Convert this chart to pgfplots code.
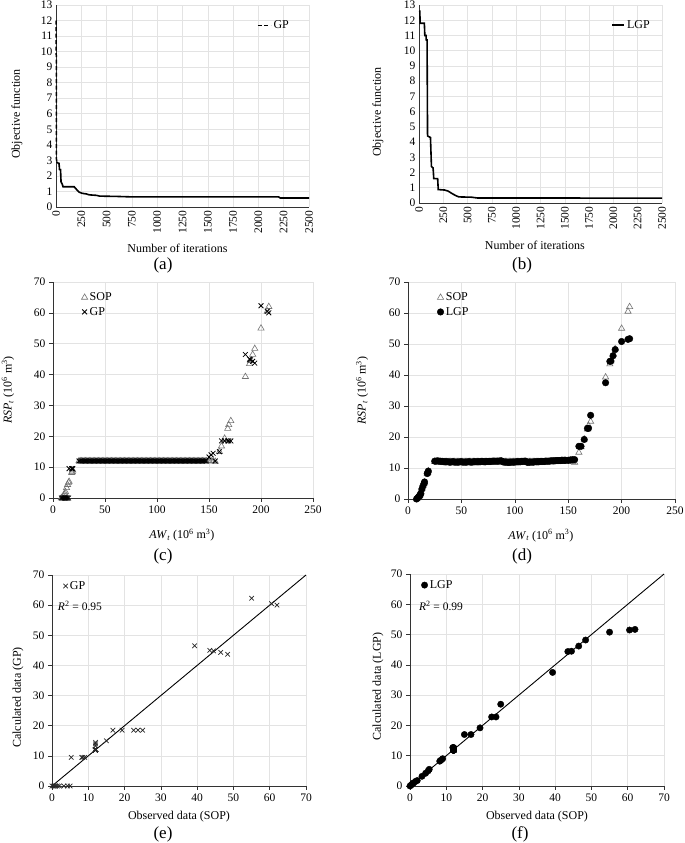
\documentclass[border=0pt]{standalone}
\usepackage{fontspec}
\setmainfont{Liberation Serif}
\usepackage{pgfplots}
\usepackage{pgfplotstable}
\pgfplotsset{compat=1.18}

% reservoir data: available water, SOP release, GP and LGP estimates
\pgfplotstableread{
aw sop gp lgp
8.0 0.0 0 0.0
9.0 0.3 0 0.3
10.0 0.7 0 0.8
11.0 1.0 0 1.0
11.5 1.5 0 1.5
12.0 2.0 0 1.8
13.0 3.3 0 3.2
14.0 4.3 0 4.2
15.0 5.0 0 5.0
15.5 5.3 9.5 5.5
18.0 8.2 9.5 8.2
18.5 8.5 9.5 8.5
19.0 9.0 9.5 9.0
25.0 12 12 12.2
26.25 12 12 12.2
27.5 12 12 12.3
28.75 12 12 12.2
30.0 12 12 12.2
31.25 12 12 12.1
32.5 12 12 12.1
33.75 12 12 12.0
35.0 12 12 12.0
36.25 12 12 12.0
37.5 12 12 12.0
38.75 12 12 11.9
40.0 12 12 11.9
41.25 12 12 12.0
42.5 12 12 12.0
43.75 12 12 11.9
45.0 12 12 11.9
46.25 12 12 11.9
47.5 12 12 11.9
48.75 12 12 12.0
50.0 12 12 12.0
51.25 12 12 11.9
52.5 12 12 11.9
53.75 12 12 11.9
55.0 12 12 11.9
56.25 12 12 12.0
57.5 12 12 12.0
58.75 12 12 11.9
60.0 12 12 11.9
61.25 12 12 12.0
62.5 12 12 12.0
63.75 12 12 12.0
65.0 12 12 12.0
66.25 12 12 12.0
67.5 12 12 12.0
68.75 12 12 12.1
70.0 12 12 12.1
71.25 12 12 12.0
72.5 12 12 12.0
73.75 12 12 12.1
75.0 12 12 12.1
76.25 12 12 12.1
77.5 12 12 12.1
78.75 12 12 12.2
80.0 12 12 12.2
81.25 12 12 12.2
82.5 12 12 12.2
83.75 12 12 12.2
85.0 12 12 12.2
86.25 12 12 12.3
87.5 12 12 12.3
88.75 12 12 12.0
90.0 12 12 11.9
91.25 12 12 11.9
92.5 12 12 11.9
93.75 12 12 11.8
95.0 12 12 11.8
96.25 12 12 11.9
97.5 12 12 11.9
98.75 12 12 11.9
100.0 12 12 11.9
101.25 12 12 12.0
102.5 12 12 12.0
103.75 12 12 12.0
105.0 12 12 12.0
106.25 12 12 12.1
107.5 12 12 12.1
108.75 12 12 12.2
110.0 12 12 12.2
111.25 12 12 11.9
112.5 12 12 11.8
113.75 12 12 11.9
115.0 12 12 11.9
116.25 12 12 11.9
117.5 12 12 11.9
118.75 12 12 12.0
120.0 12 12 12.0
121.25 12 12 12.0
122.5 12 12 12.0
123.75 12 12 12.1
125.0 12 12 12.1
126.25 12 12 12.1
127.5 12 12 12.1
128.75 12 12 12.2
130.0 12 12 12.2
131.25 12 12 12.2
132.5 12 12 12.2
133.75 12 12 12.3
135.0 12 12 12.3
136.25 12 12 12.3
137.5 12 12 12.3
138.75 12 12 12.4
140.0 12 12 12.4
141.25 12 12 12.4
142.5 12 12 12.4
143.75 12 12 12.5
145.0 12 12 12.5
146.25 12 12 12.5
147.5 12 12 12.5
150.0 12 13.3 12.5
152.0 12 14.0 12.6
154.0 12 14.5 12.7
156.0 11.8 12.0 12.7
160.0 15.0 15.0 17.0
162.0 16.8 18.5 17.0
165.0 19.3 18.5 19.2
168.0 22.5 18.5 22.8
169.0 23.7 18.5 22.8
171.0 25.0 18.5 27.0
185.0 39.3 46.5 37.5
189.0 43.5 45.0 44.4
190.0 44.5 44.8 44.5
192.0 46.5 44.3 46.2
194.0 48.4 43.7 48.2
200.0 55.0 62.3 50.8
206.0 60.5 60.5 51.5
207.5 62.0 60.0 51.7
}\resdata

\newcommand\tickfont{\fontsize{11.5}{13}\selectfont}
\newcommand\labfont{\fontsize{12}{14}\selectfont}
\newcommand\letfont{\fontsize{17}{19}\selectfont}

\pgfplotsset{
  panel/.style={
    scale only axis, anchor=south west, clip=false,
    axis lines=left, axis line style={-, black!80, line width=0.8pt},
    grid=major, major grid style={gray!22, line width=0.6pt},
    tick label style={font=\tickfont},
    label style={font=\labfont},
    /pgf/number format/assume math mode=true,
    /pgf/number format/1000 sep={},
    scaled ticks=false,
    legend style={draw=none, fill=none, font=\labfont, inner sep=1pt,
      row sep=1pt},
    legend cell align=left,
  },
  outticks/.style={tick align=outside, major tick length=4pt,
    tick style={black!80, line width=0.6pt}},
}

\begin{document}
\begin{tikzpicture}
\path[use as bounding box] (0,0) rectangle (685pt,843pt);

% (a)
\begin{axis}[panel, at={(56pt,636pt)}, width=253pt, height=202pt,
  xmin=0, xmax=2500, ymin=0, ymax=13,
  xtick={0,250,...,2500}, ytick={0,1,...,13}, major tick length=0pt,
  xticklabel style={rotate=90, anchor=east},
  xlabel={Number of iterations}, ylabel={Objective function},
  xlabel style={at={(axis description cs:0.48,-0.203)}, anchor=center},
  ylabel style={at={(axis description cs:-0.154,0.46)}, anchor=center},
  legend style={at={(axis description cs:0.933,0.90)}, anchor=east},
  legend image code/.code={\draw[#1] (0pt,0pt) -- (13pt,0pt);}]
\addplot[black, dash pattern=on 4pt off 2.5pt, line width=1.5pt, forget plot]
  coordinates {(0,12) (2,11.8) (4,3.2) (6,2.9)};
\addplot[black, line width=1.6pt, forget plot] coordinates {
  (6,2.9) (25,2.8) (30,2.8) (35,2.4) (45,2.4) (50,1.6) (60,1.5) (70,1.3)
  (180,1.3) (200,1.15) (215,1.05) (230,0.95) (260,0.88) (300,0.84)
  (330,0.78) (400,0.75) (430,0.7) (600,0.68) (750,0.65) (2200,0.65)
  (2215,0.58) (2500,0.58)};
\addlegendimage{black, dash pattern=on 4pt off 2.5pt, line width=1.3pt}
\addlegendentry{GP}
\end{axis}

% (b)
\begin{axis}[panel, at={(419pt,640pt)}, width=243pt, height=198pt,
  xmin=0, xmax=2500, ymin=0, ymax=13,
  xtick={0,250,...,2500}, ytick={0,1,...,13}, major tick length=0pt,
  xticklabel style={rotate=90, anchor=east},
  xlabel={Number of iterations}, ylabel={Objective function},
  xlabel style={at={(axis description cs:0.477,-0.212)}, anchor=center},
  ylabel style={at={(axis description cs:-0.169,0.46)}, anchor=center},
  legend style={at={(axis description cs:0.963,0.90)}, anchor=east},
  legend image code/.code={\draw[#1] (0pt,0pt) -- (12pt,0pt);}]
\addplot[black, line width=1.6pt] coordinates {
  (0,12.6) (8,12.6) (12,11.8) (55,11.8) (60,11.0) (72,11.0) (75,10.7)
  (83,10.7) (88,4.4) (118,4.3) (128,2.4) (145,2.3) (152,1.6) (192,1.6)
  (198,0.88) (265,0.85) (300,0.78) (340,0.62) (380,0.48) (410,0.4)
  (540,0.38) (600,0.33) (2500,0.32)};
\addlegendentry{LGP}
\end{axis}

% (c)
\begin{axis}[panel, outticks, at={(53pt,345pt)}, width=260pt, height=216pt,
  xmin=0, xmax=250, ymin=0, ymax=70,
  xtick={0,50,...,250}, ytick={0,10,...,70},
  xlabel={\textit{AW}\textsubscript{\textit{t}} (10\textsuperscript{6} m\textsuperscript{3})},
  ylabel={\textit{RSP}\textsubscript{\textit{t}} (10\textsuperscript{6} m\textsuperscript{3})},
  xlabel style={at={(axis description cs:0.496,-0.172)}, anchor=center},
  ylabel style={at={(axis description cs:-0.173,0.5)}, anchor=center},
  legend style={at={(axis description cs:0.105,0.965)}, anchor=north west}]
\addplot[only marks, mark=triangle, mark size=3.6pt, black!55,
  mark options={line width=0.6pt}] table[x=aw, y=sop] {\resdata};
\addplot[only marks, mark=x, mark size=3.4pt, black,
  mark options={line width=0.8pt}] table[x=aw, y=gp] {\resdata};
\legend{SOP, GP}
\end{axis}

% (d)
\begin{axis}[panel, outticks, at={(408pt,344pt)}, width=267pt, height=217pt,
  xmin=0, xmax=250, ymin=0, ymax=70,
  xtick={0,50,...,250}, ytick={0,10,...,70},
  xlabel={\textit{AW}\textsubscript{\textit{t}} (10\textsuperscript{6} m\textsuperscript{3})},
  ylabel={\textit{RSP}\textsubscript{\textit{t}} (10\textsuperscript{6} m\textsuperscript{3})},
  xlabel style={at={(axis description cs:0.498,-0.168)}, anchor=center},
  ylabel style={at={(axis description cs:-0.172,0.5)}, anchor=center},
  legend style={at={(axis description cs:0.105,0.965)}, anchor=north west}]
\addplot[only marks, mark=triangle, mark size=3.6pt, black!55,
  mark options={line width=0.6pt}] table[x=aw, y=sop] {\resdata};
\addplot[only marks, mark=*, mark size=3.3pt, black] table[x=aw, y=lgp] {\resdata};
\legend{SOP, LGP}
\end{axis}

% (e)
\begin{axis}[panel, outticks, at={(52pt,57pt)}, width=254pt, height=211pt,
  xmin=0, xmax=70, ymin=0, ymax=70,
  xtick={0,10,...,70}, ytick={0,10,...,70},
  xlabel={Observed data (SOP)}, ylabel={Calculated data (GP)},
  xlabel style={at={(axis description cs:0.5,-0.147)}, anchor=center},
  ylabel style={at={(axis description cs:-0.134,0.42)}, anchor=center},
  legend style={at={(axis description cs:0.04,0.985)}, anchor=north west}]
\addplot[only marks, mark=x, mark size=3.2pt, black!85,
  mark options={line width=0.7pt}] table[x=sop, y=gp] {\resdata};
\addlegendentry{GP}
\addplot[black, line width=0.9pt, forget plot] coordinates {(0,0) (70,70)};
\node[font=\tickfont] at (axis description cs:0.11,0.853)
  {\textit{R}\textsuperscript{2} = 0.95};
\end{axis}

% (f)
\begin{axis}[panel, outticks, at={(410pt,57pt)}, width=254pt, height=212pt,
  xmin=0, xmax=70, ymin=0, ymax=70,
  xtick={0,10,...,70}, ytick={0,10,...,70},
  xlabel={Observed data (SOP)}, ylabel={Calculated data (LGP)},
  xlabel style={at={(axis description cs:0.5,-0.146)}, anchor=center},
  ylabel style={at={(axis description cs:-0.126,0.47)}, anchor=center},
  legend style={at={(axis description cs:0.04,0.985)}, anchor=north west}]
\addplot[only marks, mark=*, mark size=3.2pt, black] table[x=sop, y=lgp] {\resdata};
\addlegendentry{LGP}
\addplot[black, line width=0.9pt, forget plot] coordinates {(0,0) (70,70)};
\node[font=\tickfont] at (axis description cs:0.122,0.85)
  {\textit{R}\textsuperscript{2} = 0.99};
\end{axis}

% panel letters
\node[font=\letfont] at (163pt,578pt) {(a)};
\node[font=\letfont] at (522pt,578pt) {(b)};
\node[font=\letfont] at (163pt,287pt) {(c)};
\node[font=\letfont] at (522pt,287pt) {(d)};
\node[font=\letfont] at (163pt,9pt) {(e)};
\node[font=\letfont] at (520pt,9pt) {(f)};
\end{tikzpicture}
\end{document}
